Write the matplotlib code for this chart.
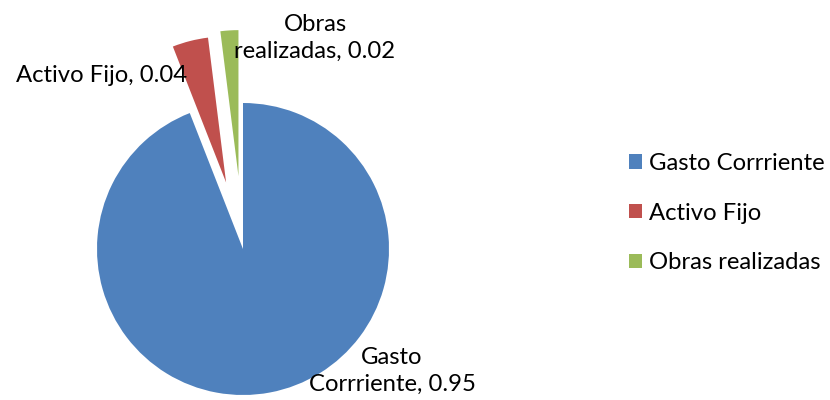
import matplotlib
matplotlib.use("Agg")
import matplotlib.pyplot as plt
from matplotlib.patches import Patch

categories = ["Gasto Corrriente", "Activo Fijo", "Obras realizadas"]
values = [0.95, 0.04, 0.02]
colors = ["#4F81BD", "#C0504D", "#9BBB59"]
explode = [0.0, 0.47, 0.5]

plt.rcParams['font.family'] = ['Lato', 'DejaVu Sans']
FS = 17.2

fig = plt.figure(figsize=(8.3, 4.0), dpi=100)
W, H = 830, 400
cx, cy, R = 243, 249, 146
ax = fig.add_axes([(cx - R) / W, (H - cy - R) / H, 2 * R / W, 2 * R / H])
wedges, _ = ax.pie(values, colors=colors, explode=explode, startangle=90,
                   counterclock=False, radius=1, frame=False)
for w in wedges:
    w.set_clip_on(False)
ax.set_xlim(-1, 1)
ax.set_ylim(-1, 1)
ax.set_aspect('equal')
ax.axis('off')

def d(px, py):
    return ((px - cx) / R, (cy - py) / R)

labels = [f"Gasto\nCorrriente, {values[0]:.2f}",
          f"Activo Fijo, {values[1]:.2f}",
          f"Obras\nrealizadas, {values[2]:.2f}"]
pos = [d(392, 371), d(102, 76), d(315, 38)]
for lab, p in zip(labels, pos):
    ax.text(p[0], p[1], lab, ha='center', va='center', fontsize=FS,
            linespacing=1.36, clip_on=False)

handles = [Patch(facecolor=c, edgecolor='none') for c in colors]
fig.legend(handles, categories, loc='center left', bbox_to_anchor=(629 / W, 1 - 213 / H),
           frameon=False, fontsize=FS, handlelength=0.55, handleheight=0.55,
           handletextpad=0.3, labelspacing=1.2, borderpad=0, borderaxespad=0)

fig.savefig("out.png", dpi=100)
